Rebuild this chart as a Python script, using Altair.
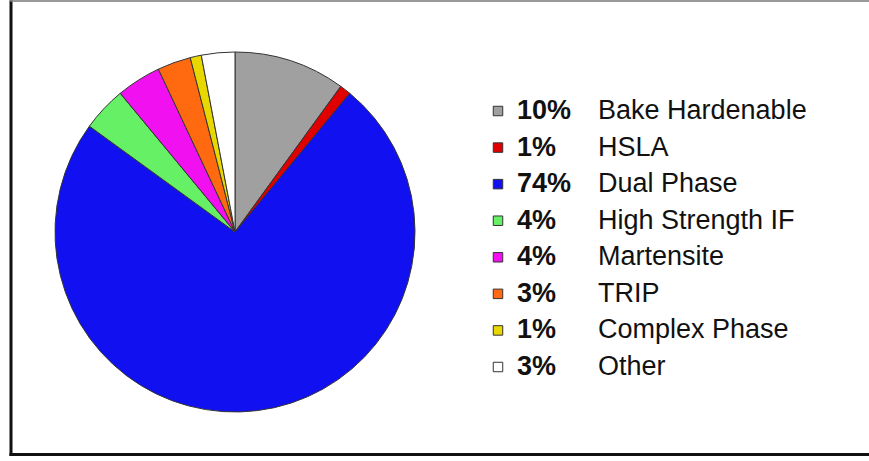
import altair as alt
import pandas as pd

categories = ["Bake Hardenable", "HSLA", "Dual Phase", "High Strength IF",
              "Martensite", "TRIP", "Complex Phase", "Other"]
shares = [10, 1, 74, 4, 4, 3, 1, 3]
colors = ["#a0a0a0", "#e00000", "#1010f0", "#66f066",
          "#f010f0", "#ff6a10", "#e8d800", "#ffffff"]

df = pd.DataFrame({
    "cat": categories,
    "share": shares,
    "idx": list(range(len(categories))),
    "pct": [f"{v}%" for v in shares],
})

W, H = 869, 456
FONT = "Liberation Sans"

color_scale = alt.Scale(domain=categories, range=colors)
y_scale = alt.Scale(type="point", domain=categories, range=[111, 367], padding=0)

pie = alt.Chart(df).mark_arc(
    outerRadius=180, stroke="#333333", strokeWidth=1
).encode(
    theta=alt.Theta("share:Q", stack=True),
    order=alt.Order("idx:Q"),
    color=alt.Color("cat:N", scale=color_scale, legend=None),
    x=alt.value(235),
    y=alt.value(232),
)

markers = alt.Chart(df).mark_square(
    size=90, stroke="#333333", strokeWidth=1, opacity=1
).encode(
    x=alt.value(498),
    y=alt.Y("cat:N", scale=y_scale, axis=None),
    fill=alt.Color("cat:N", scale=color_scale, legend=None),
)

pct_text = alt.Chart(df).mark_text(
    align="left", baseline="middle", font=FONT, fontSize=27,
    fontWeight="bold", color="#111111"
).encode(
    x=alt.value(517),
    y=alt.Y("cat:N", scale=y_scale, axis=None),
    text="pct:N",
)

name_text = alt.Chart(df).mark_text(
    align="left", baseline="middle", font=FONT, fontSize=27,
    color="#111111"
).encode(
    x=alt.value(598),
    y=alt.Y("cat:N", scale=y_scale, axis=None),
    text="cat:N",
)

frame_df = pd.DataFrame({"k": [0]})
left_bar = alt.Chart(frame_df).mark_rect(color="#111111").encode(
    x=alt.value(9.5), x2=alt.value(12.5), y=alt.value(0.5), y2=alt.value(456))
bottom_bar = alt.Chart(frame_df).mark_rect(color="#111111").encode(
    x=alt.value(9.5), x2=alt.value(869), y=alt.value(453), y2=alt.value(456))
top_bar = alt.Chart(frame_df).mark_rect(color="#777777").encode(
    x=alt.value(9.5), x2=alt.value(869), y=alt.value(0.3), y2=alt.value(1.8))
# white strip masking the stray edge line at the right border
right_mask = alt.Chart(frame_df).mark_rect(color="white").encode(
    x=alt.value(W - 9), x2=alt.value(W), y=alt.value(2), y2=alt.value(452.9))

chart = alt.layer(
    pie, markers, pct_text, name_text, right_mask, left_bar, bottom_bar, top_bar
).properties(
    width=W, height=H,
    autosize=alt.AutoSizeParams(type="none"),
    padding=0,
    background="white",
).configure_view(stroke="transparent", strokeWidth=0)

chart.save("out.html", embed_options={"renderer": "svg", "actions": False})
